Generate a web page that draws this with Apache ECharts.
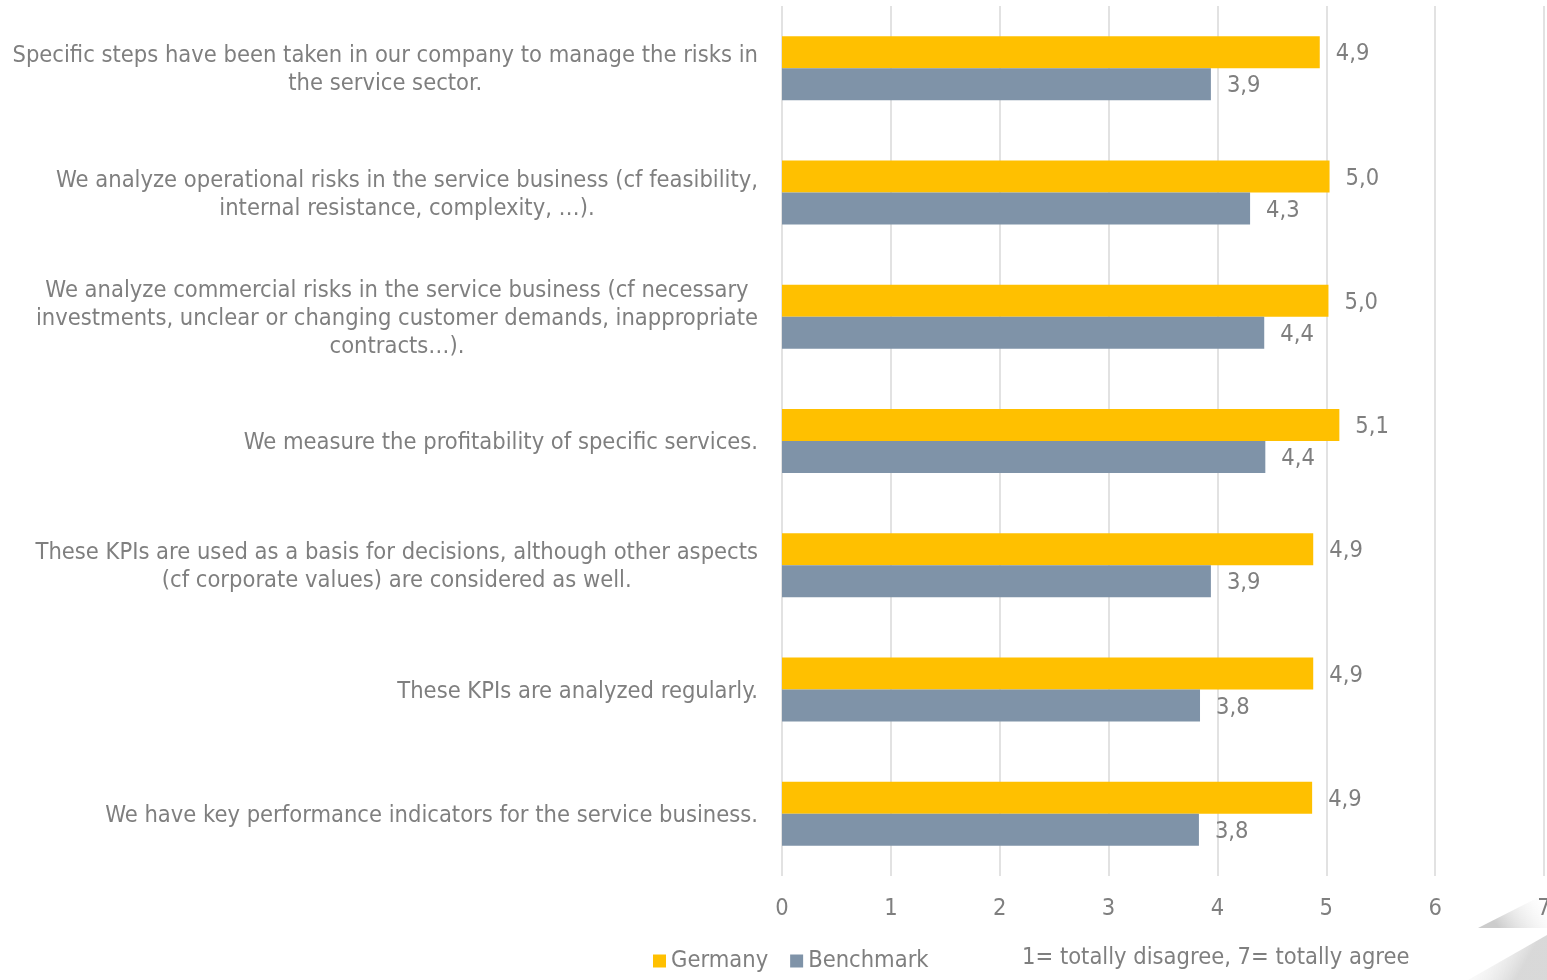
<!DOCTYPE html>
<html>
<head>
<meta charset="utf-8">
<script src="https://cdn.jsdelivr.net/npm/echarts@6/dist/echarts.min.js"></script>
<style>
  html, body { margin: 0; padding: 0; background: #fff; }
  #chart { width: 1547px; height: 980px; }
</style>
</head>
<body>
<div id="chart"></div>
<script>
const statements = [
  'Specific steps have been taken in our company to manage the risks in\nthe service sector.',
  'We analyze operational risks in the service business (cf feasibility,\ninternal resistance, complexity, …).',
  'We analyze commercial risks in the service business (cf necessary\ninvestments, unclear or changing customer demands, inappropriate\ncontracts…).',
  'We measure the profitability of specific services.',
  'These KPIs are used as a basis for decisions, although other aspects\n(cf corporate values) are considered as well.',
  'These KPIs are analyzed regularly.',
  'We have key performance indicators for the service business.'
]
const germany = [4.94, 5.03, 5.02, 5.12, 4.88, 4.88, 4.87]
const benchmark = [3.94, 4.30, 4.43, 4.44, 3.94, 3.84, 3.83]
const seriesNames = ['Germany', 'Benchmark']
const scaleNote = '1= totally disagree, 7= totally agree'

const font = 'DejaVu Sans Condensed'
const fs = 23.5
const grey = '#7f7f7f'

const chart = echarts.init(document.getElementById('chart'))

function commaLabel(p) {
  return p.value.toFixed(1).replace('.', ',')
}

// faint page-curl shapes in the bottom right corner
function curl(points, x1, y1, x2, y2, alpha) {
  return {
    type: 'polygon',
    silent: true,
    shape: { points: points },
    style: {
      fill: new echarts.graphic.LinearGradient(x1, y1, x2, y2, [
        { offset: 0, color: 'rgba(255,255,255,0)' },
        { offset: 1, color: 'rgba(170,170,170,' + alpha + ')' }
      ])
    }
  }
}

const dataLabel = {
  show: true,
  position: 'right',
  distance: 16,
  offset: [0, 2],
  fontFamily: font,
  fontSize: fs,
  color: grey,
  formatter: commaLabel
}

chart.setOption({
  textStyle: { fontFamily: font },
  color: ['#FFC000', '#7F93A8'],
  animation: false,
  legend: {
    data: seriesNames,
    left: 648,
    top: 944,
    icon: 'rect',
    itemWidth: 13,
    itemHeight: 13,
    itemGap: 22,
    textStyle: { fontFamily: font, fontSize: fs, color: grey }
  },
  grid: {
    left: 782,
    right: 3,
    top: 6,
    bottom: 104,
    outerBoundsMode: 'none'
  },
  xAxis: {
    type: 'value',
    min: 0,
    max: 7,
    interval: 1,
    axisLine: { show: false },
    axisTick: { show: false },
    axisLabel: { fontFamily: font, fontSize: fs, color: grey, margin: 21 },
    splitLine: { lineStyle: { color: '#d9d9d9', width: 1.5 } }
  },
  yAxis: {
    type: 'category',
    inverse: true,
    data: statements,
    axisLine: { show: false },
    axisTick: { show: false },
    axisLabel: {
      margin: 24,
      align: 'right',
      lineHeight: 28,
      padding: [4, 0, 0, 0],
      formatter: v => v.split('\n').map(l => '{c|' + l + '}').join('\n'),
      rich: {
        c: { align: 'center', fontFamily: font, fontSize: fs, color: grey, lineHeight: 28 }
      }
    }
  },
  series: [
    {
      name: seriesNames[0],
      type: 'bar',
      data: germany,
      barWidth: 32,
      barGap: '0%',
      label: dataLabel
    },
    {
      name: seriesNames[1],
      type: 'bar',
      data: benchmark,
      barWidth: 32,
      barGap: '0%',
      label: dataLabel
    }
  ],
  graphic: [
    {
      type: 'text',
      left: 1022,
      top: 946,
      style: { text: scaleNote, fontFamily: font, fontSize: fs, fill: grey }
    },
    curl([[1478, 928], [1547, 928], [1547, 893]], 1, 0, 0.3, 1, 0.6),
    curl([[1468, 980], [1547, 980], [1547, 935]], 0, 0, 0.7, 0.7, 0.45)
  ]
})
</script>
</body>
</html>
